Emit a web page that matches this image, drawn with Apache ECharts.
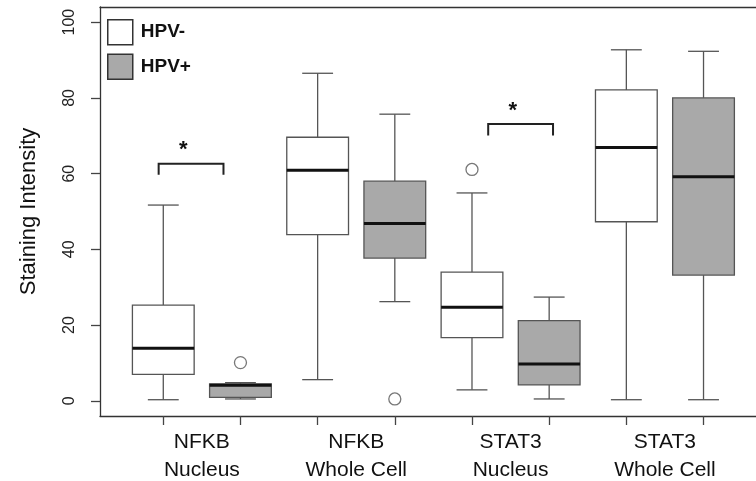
<!DOCTYPE html>
<html>
<head>
<meta charset="utf-8">
<script src="https://cdn.jsdelivr.net/npm/echarts@6/dist/echarts.min.js"></script>
<style>
  html, body { margin: 0; padding: 0; background: #fff; }
  #chart { width: 756px; height: 481px; }
</style>
</head>
<body>
<div id="chart"></div>
<script>
var groups = ['NFKB\nNucleus', 'NFKB\nWhole Cell', 'STAT3\nNucleus', 'STAT3\nWhole Cell'];
var yTicks = [0, 20, 40, 60, 80, 100];

// min, Q1, median, Q3, max for each group
var hpvNeg = [
	[0.3, 7.0, 13.9, 25.3, 51.7],
	[5.6, 43.9, 60.9, 69.6, 86.5],
	[2.9, 16.7, 24.7, 34.0, 54.9],
	[0.3, 47.3, 66.9, 82.1, 92.7]
];
var hpvPos = [
	[0.5, 0.9, 4.1, 4.5, 4.8],
	[26.2, 37.7, 46.8, 58.0, 75.7],
	[0.5, 4.2, 9.7, 21.2, 27.4],
	[0.3, 33.2, 59.2, 80.0, 92.3]
];
var negOutliers = [[], [], [61.1], []];
var posOutliers = [[10.1], [0.5], [], []];

// significance brackets (x in box positions, y in data units)
var sigX0 = [0.94, 5.21];
var sigX1 = [1.78, 6.05];
var sigTop = [62.6, 73.1];
var sigFoot = [59.7, 70.1];
var starX = [1.26, 5.53];
var starY = [66.3, 76.5];

var font = "'Liberation Sans', Arial, sans-serif";

function boxData(stats, offset) {
	return stats.map(function(s, i) {
		return [2 * i + 1 + offset].concat(s);
	});
}
function outData(outs, offset) {
	var res = [];
	outs.forEach(function(list, i) {
		list.forEach(function(v) { res.push([2 * i + 1 + offset, v]); });
	});
	return res;
}
function positions() {
	var p = [];
	for (var i = 1; i <= 2 * groups.length; i++) p.push(i);
	return p;
}

function renderBox(params, api) {
	var x = api.value(0), lo = api.value(1), q1 = api.value(2),
		md = api.value(3), q3 = api.value(4), hi = api.value(5);
	var c = function(a, b) { return api.coord([a, b]); };
	var lineStyle = { stroke: '#555', lineWidth: 1.3, fill: null };
	var seg = function(p1, p2, style) {
		return { type: 'line', shape: { x1: p1[0], y1: p1[1], x2: p2[0], y2: p2[1] }, style: style };
	};
	var tl = c(x - 0.4, q3), br = c(x + 0.4, q1);
	return {
		type: 'group',
		children: [
			seg(c(x, q3), c(x, hi), lineStyle),
			seg(c(x, lo), c(x, q1), lineStyle),
			seg(c(x - 0.2, hi), c(x + 0.2, hi), lineStyle),
			seg(c(x - 0.2, lo), c(x + 0.2, lo), lineStyle),
			{ type: 'rect', shape: { x: tl[0], y: tl[1], width: br[0] - tl[0], height: br[1] - tl[1] },
			  style: { fill: api.visual('color'), stroke: '#555', lineWidth: 1.3 } },
			seg(c(x - 0.4, md), c(x + 0.4, md), { stroke: '#111', lineWidth: 3 })
		]
	};
}

function renderSig(params, api) {
	var i = params.dataIndex;
	var c = function(a, b) { return api.coord([a, b]); };
	var a = c(sigX0[i], sigFoot[i]), b = c(sigX0[i], sigTop[i]),
		d = c(sigX1[i], sigTop[i]), e = c(sigX1[i], sigFoot[i]);
	var s = c(starX[i], starY[i]);
	return {
		type: 'group',
		children: [
			{ type: 'polyline', shape: { points: [a, b, d, e] },
			  style: { stroke: '#222', lineWidth: 2, fill: null } },
			{ type: 'text', x: s[0], y: s[1],
			  style: { text: '*', fontSize: 22, fontWeight: 'bold', fontFamily: font,
			           fill: '#111', align: 'center', verticalAlign: 'middle' } }
		]
	};
}

var frameLine = { show: true, onZero: false, lineStyle: { color: '#333', width: 1.3 } };

var chart = echarts.init(document.getElementById('chart'));
var option = {
	backgroundColor: '#fff',
	animation: false,
	grid: { left: 100, top: 7, right: 0, bottom: 65, outerBoundsMode: 'none', containLabel: false },
	legend: {
		left: 102, top: 14, orient: 'vertical',
		itemWidth: 25, itemHeight: 25, itemGap: 8,
		icon: 'rect', selectedMode: false,
		textStyle: { fontSize: 19, fontWeight: 'bold', fontFamily: font, color: '#111', padding: [0, 0, 0, 3] },
		data: [
			{ name: 'HPV-', itemStyle: { color: '#fff', borderColor: '#333', borderWidth: 1.5 } },
			{ name: 'HPV+', itemStyle: { color: '#a9a9a9', borderColor: '#333', borderWidth: 1.5 } }
		]
	},
	xAxis: [{
		type: 'value', min: 0.18, max: 8.68, position: 'bottom',
		axisLine: frameLine,
		splitLine: { show: false },
		axisTick: { customValues: positions(), length: 9, lineStyle: { color: '#444', width: 1.3 } },
		axisLabel: {
			customValues: groups.map(function(g, i) { return 2 * i + 1.5; }),
			formatter: function(v) { return groups[Math.round((v - 1.5) / 2)]; },
			fontSize: 21, lineHeight: 28, color: '#111', fontFamily: font, margin: 12
		}
	}, {
		// top edge of the plot frame
		type: 'value', min: 0.18, max: 8.68, position: 'top',
		axisLine: frameLine,
		axisTick: { show: false }, axisLabel: { show: false }, splitLine: { show: false }
	}],
	yAxis: {
		type: 'value', min: -4, max: 104,
		name: 'Staining Intensity', nameLocation: 'middle', nameRotate: 90, nameGap: 60,
		nameTextStyle: { fontSize: 22, color: '#111', fontFamily: font },
		axisLine: frameLine,
		splitLine: { show: false },
		axisTick: { show: true, customValues: yTicks, length: 9, lineStyle: { color: '#444', width: 1.3 } },
		axisLabel: { customValues: yTicks, rotate: 90, fontSize: 16, color: '#222', fontFamily: font, margin: 22 }
	},
	series: [
		{
			name: 'HPV-', type: 'custom', renderItem: renderBox,
			itemStyle: { color: '#fff' },
			encode: { x: 0, y: [1, 2, 3, 4, 5] },
			data: boxData(hpvNeg, 0)
		},
		{
			name: 'HPV+', type: 'custom', renderItem: renderBox,
			itemStyle: { color: '#a9a9a9' },
			encode: { x: 0, y: [1, 2, 3, 4, 5] },
			data: boxData(hpvPos, 1)
		},
		{
			name: 'HPV- outliers', type: 'scatter', symbol: 'circle', symbolSize: 12,
			itemStyle: { color: '#fff', borderColor: '#555', borderWidth: 1.3 },
			data: outData(negOutliers, 0)
		},
		{
			name: 'HPV+ outliers', type: 'scatter', symbol: 'circle', symbolSize: 12,
			itemStyle: { color: '#fff', borderColor: '#555', borderWidth: 1.3 },
			data: outData(posOutliers, 1)
		},
		{
			name: 'sig', type: 'custom', renderItem: renderSig,
			encode: { x: 0, y: 1 },
			data: starX.map(function(x, i) { return [x, starY[i]]; })
		}
	]
};
chart.setOption(option);
</script>
</body>
</html>
